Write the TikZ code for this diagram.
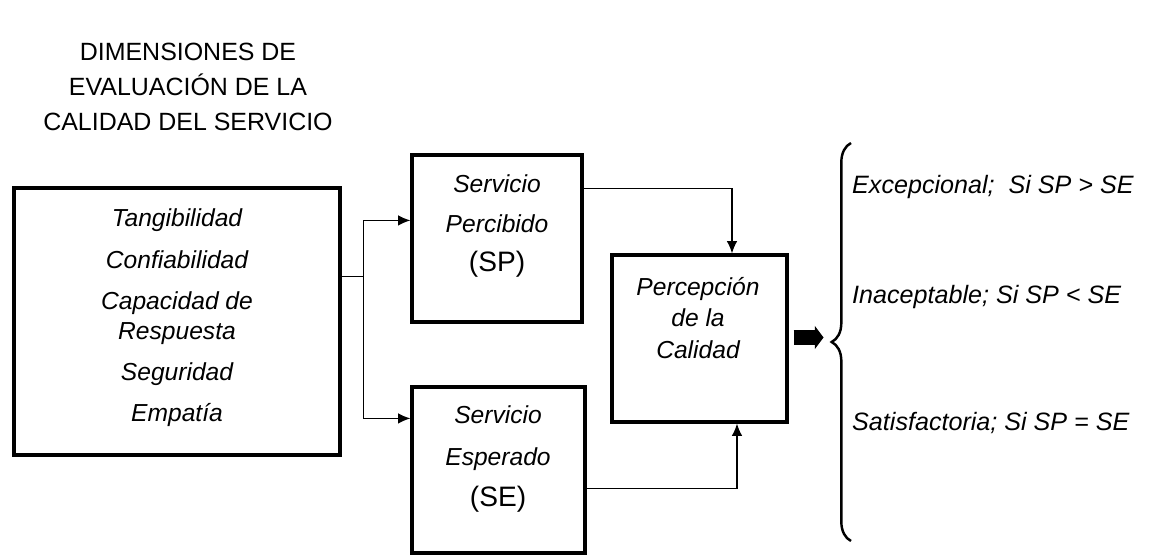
\documentclass[tikz,border=0pt]{standalone}
\usepackage{fontspec}
\setmainfont{Liberation Sans}
\usetikzlibrary{arrows.meta,calc,decorations.pathreplacing}

\tikzset{
  caja/.style={draw, line width=1.8pt, inner sep=0pt},
  texto/.style={align=center, font=\fontsize{14}{23.5}\selectfont\itshape},
  linea/.style={line width=0.8pt},
  flecha/.style={line width=0.8pt, -{Latex[length=7pt,width=6pt]}},
  gruesa/.style={line width=8pt, -{Triangle[length=5pt,width=13pt]}},
  cond/.style={anchor=west, font=\fontsize{14.3}{16}\selectfont\itshape}
}

\begin{document}
\begin{tikzpicture}[x=0.02cm, y=-0.02cm]
  \useasboundingbox (0,0) rectangle (1149,560);

  % Titulo
  \node[align=center, font=\fontsize{14.2}{20}\selectfont] (titulo) at (188,87)
    {DIMENSIONES DE\\EVALUACI\'ON DE LA\\CALIDAD DEL SERVICIO};

  % Cajas
  \node[caja, minimum width=6.52cm, minimum height=5.34cm] (dim) at (177,321.5) {};
  \node[caja, minimum width=3.4cm, minimum height=3.34cm] (sp) at (497,238.5) {};
  \node[caja, minimum width=3.46cm, minimum height=3.32cm] (se) at (498.5,470) {};
  \node[caja, minimum width=3.5cm, minimum height=3.34cm] (pc) at (699.5,338.5) {};

  % Textos de las cajas
  \node[texto] (dimtxt) at (177,318)
    {Tangibilidad\\Confiabilidad\\Capacidad de\\[-6.5pt]Respuesta\\Seguridad\\Empat\'ia};
  \node[texto, font=\fontsize{14}{22.5}\selectfont\itshape] (sptxt) at (497,226)
    {Servicio\\Percibido\\{\upshape\fontsize{16}{16}\selectfont (SP)}};
  \node[texto, font=\fontsize{14}{23.5}\selectfont\itshape] (setxt) at (498,459)
    {Servicio\\Esperado\\{\upshape\fontsize{16}{16}\selectfont (SE)}};
  \node[texto, font=\fontsize{14}{18}\selectfont\itshape] (pctxt) at (698,318)
    {Percepci\'on\\de la\\Calidad};

  % Conectores
  \coordinate (split) at ($(dim.north east)+(22,90)$);
  \draw[linea] ($(dim.north east)+(0,90)$) -- (split);
  \draw[flecha] (split) |- ($(sp.north west)+(0,67)$);
  \draw[flecha] (split) |- ($(se.north west)+(0,33)$);
  \draw[flecha] ($(sp.north east)+(0,35)$) -| ($(pc.north)+(32.5,0)$);
  \draw[flecha] ($(se.south east)+(0,-66)$) -| ($(pc.south)+(37.5,0)$);

  % Flecha gruesa y llave
  \coordinate (gin) at ($(pc.east)+(5,-1)$);
  \coordinate (gout) at ($(pc.east)+(35,-1)$);
  \draw[gruesa] (gin) -- (gout);
  \draw[line width=1.4pt, decorate, decoration={brace, amplitude=11pt}]
    (851,541) -- (851,143);

  % Condiciones
  \node[cond] (exc) at (846,187) {Excepcional;\ \ Si SP > SE};
  \node[cond] (ina) at (846,297) {Inaceptable; Si SP < SE};
  \node[cond] (sat) at (846,423) {Satisfactoria; Si SP = SE};
\end{tikzpicture}
\end{document}
